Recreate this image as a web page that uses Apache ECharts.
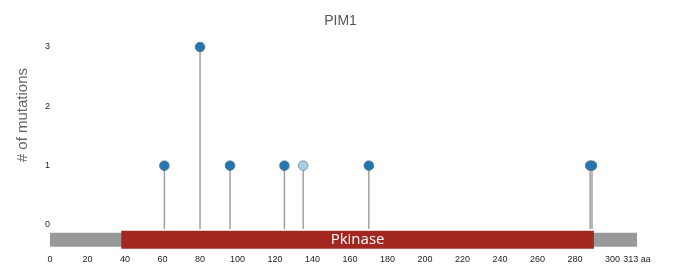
<!DOCTYPE html>
<html>
<head>
<meta charset="utf-8">
<script src="https://cdn.jsdelivr.net/npm/echarts@6/dist/echarts.min.js"></script>
<style>
  html, body { margin: 0; padding: 0; background: #fff; }
  #chart { width: 681px; height: 268px; }
</style>
</head>
<body>
<div id="chart"></div>
<script>
// mutation positions (aa) and counts
var positions = [61, 80, 96, 125, 135, 170, 288, 289];
var counts    = [1, 3, 1, 1, 1, 1, 1, 1];
var types     = ['missense', 'missense', 'missense', 'missense', 'other', 'missense', 'missense', 'missense'];

var proteinLength = 313;
var domainNames = ['Pkinase'];
var domainStart = [38];
var domainEnd   = [290];

var xTicks = [0, 20, 40, 60, 80, 100, 120, 140, 160, 180, 200, 220, 240, 260, 280, 300, 313];
var yTicks = [0, 1, 2, 3];

var typeColor = { missense: '#1f78b4', other: '#a6cee3' };
var typeBorder = { missense: '#56708a', other: '#7f98a8' };

var chart = echarts.init(document.getElementById('chart'));

var lollis = positions.map(function (p, i) { return [p, counts[i], types[i]]; });
var regions = [[0, proteinLength, '', 'bg']].concat(domainNames.map(function (n, i) {
    return [domainStart[i], domainEnd[i], n, 'domain'];
}));

chart.setOption({
    animation: false,
    title: {
        text: 'PIM1',
        left: 'center',
        top: 9,
        textStyle: { fontSize: 14, fontWeight: 'normal', color: '#555', fontFamily: 'Liberation Sans' }
    },
    grid: { left: 50, right: 44, top: 47, bottom: 19.3 },
    xAxis: {
        type: 'value',
        min: 0,
        max: proteinLength,
        splitLine: { show: false },
        axisLine: { show: false },
        axisTick: { show: false },
        axisLabel: {
            customValues: xTicks,
            margin: 6,
            fontSize: 9,
            color: '#222',
            fontFamily: 'Liberation Sans',
            formatter: function (v) { return v === proteinLength ? v + ' aa' : v; }
        }
    },
    yAxis: {
        type: 'value',
        min: -0.4,
        max: 3,
        splitLine: { show: false },
        axisLine: { show: false },
        axisTick: { show: false },
        axisLabel: {
            customValues: yTicks,
            margin: 0,
            fontSize: 9,
            color: '#222',
            fontFamily: 'Liberation Sans'
        }
    },
    graphic: [{
        type: 'text',
        left: 15,
        top: 68,
        rotation: Math.PI / 2,
        style: {
            text: '# of mutations',
            fontSize: 15,
            fill: '#666',
            fontFamily: 'Liberation Sans'
        }
    }],
    series: [
        {
            // protein backbone + domains
            type: 'custom',
            data: regions,
            renderItem: function (params, api) {
                var a = api.coord([api.value(0), -0.25]);
                var b = api.coord([api.value(1), -0.25]);
                var isDomain = regions[params.dataIndex][3] === 'domain';
                var h = isDomain ? 18 : 14;
                return {
                    type: 'rect',
                    shape: { x: a[0], y: a[1] - h / 2, width: b[0] - a[0], height: h },
                    style: { fill: isDomain ? '#a32721' : '#999' },
                    textContent: isDomain ? {
                        style: { text: regions[params.dataIndex][2], fill: '#fff', fontSize: 15, fontFamily: 'Open Sans' }
                    } : undefined,
                    textConfig: isDomain ? { position: 'inside' } : undefined
                };
            }
        },
        {
            // sticks
            type: 'custom',
            data: lollis,
            z: 3,
            renderItem: function (params, api) {
                var a = api.coord([api.value(0), -0.07]);
                var b = api.coord([api.value(0), api.value(1)]);
                return {
                    type: 'line',
                    shape: { x1: a[0], y1: a[1], x2: b[0], y2: b[1] },
                    style: { stroke: '#a0a0a0', lineWidth: 1.5 }
                };
            }
        },
        {
            type: 'scatter',
            z: 4,
            symbolSize: 9.5,
            data: lollis.map(function (d) {
                return {
                    value: [d[0], d[1]],
                    itemStyle: { color: typeColor[d[2]], borderColor: typeBorder[d[2]], borderWidth: 1, opacity: 1 }
                };
            })
        }
    ]
});
</script>
</body>
</html>
